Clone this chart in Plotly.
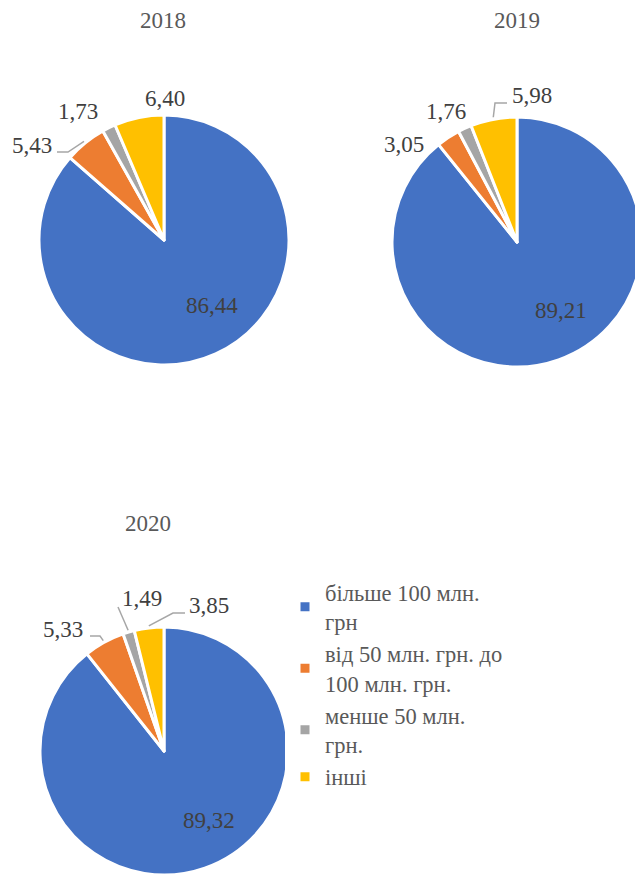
import math
import plotly.graph_objects as go

# ---- data ----
years = ["2018", "2019", "2020"]
categories = [
    "більше 100 млн.<br>грн",
    "від 50 млн. грн. до<br>100 млн. грн.",
    "менше 50 млн.<br>грн.",
    "інші",
]
v2018 = [86.44, 5.43, 1.73, 6.40]
v2019 = [89.21, 3.05, 1.76, 5.98]
v2020 = [89.32, 5.33, 1.49, 3.85]
values = [v2018, v2019, v2020]
colors = ["#4472C4", "#ED7D31", "#A5A5A5", "#FFC000"]

# ---- layout (pixels) ----
W, H = 648, 875
FONT = "Times New Roman, Liberation Serif, Tinos, serif"
pies = [
    dict(c=(164, 240), r=125, title=(163, 20),
         labels=[(212, 306), (32, 146), (78, 111), (165, 99)],
         leaders={1: [(57, 152), (68, 152)]}),
    dict(c=(517, 242), r=125, title=(517, 20),
         labels=[(561, 310), (404, 144), (446, 111), (532, 96)],
         leaders={3: [(507, 103), (495, 103)]}),
    dict(c=(164, 751), r=124, title=(148, 523),
         labels=[(209, 820), (63, 629), (142, 598), (209, 605)],
         leaders={1: [(90, 636), (100, 636)], 2: [(118, 607)], 3: [(185, 613), (173, 613)]}),
]

def px(x):
    return x / W

def py(y):
    return 1 - y / H

def fmt(v):
    return f"{v:.2f}".replace(".", ",")

fig = go.Figure()
annotations = []
shapes = []
for i, (yr, vals, p) in enumerate(zip(years, values, pies)):
    cx, cy = p["c"]
    r = p["r"]
    x0, x1 = max(0, cx - r), min(W, cx + r)
    y0, y1 = max(0, cy - r), min(H, cy + r)
    fig.add_trace(go.Pie(
        labels=categories, values=vals, sort=False, direction="clockwise",
        rotation=0, textinfo="none", hoverinfo="skip",
        marker=dict(colors=colors, line=dict(color="white", width=3)),
        domain=dict(x=[px(x0), px(x1)], y=[py(y1), py(y0)]),
        showlegend=(i == 2), name=yr,
    ))
    annotations.append(dict(x=px(p["title"][0]), y=py(p["title"][1]), xref="paper", yref="paper",
                            text=yr, showarrow=False, xanchor="center", yanchor="middle",
                            font=dict(family=FONT, size=23, color="#595959")))
    total = sum(vals)
    cum = 0
    for j, v in enumerate(vals):
        lx, ly = p["labels"][j]
        annotations.append(dict(x=px(lx), y=py(ly), xref="paper", yref="paper",
                                text=fmt(v), showarrow=False, xanchor="center", yanchor="middle",
                                font=dict(family=FONT, size=23, color="#404040")))
        theta = 2 * math.pi * (cum + v / 2) / total
        cum += v
        if j in p["leaders"]:
            R = r + 2
            ax, ay = cx + R * math.sin(theta), cy - R * math.cos(theta)
            pts = p["leaders"][j] + [(ax, ay)]
            path = "M " + " L ".join(f"{px(a)},{py(b)}" for a, b in pts)
            shapes.append(dict(type="path", path=path, xref="paper", yref="paper",
                               line=dict(color="#A6A6A6", width=1.5)))

fig.update_layout(
    width=W, height=H,
    margin=dict(l=0, r=0, t=0, b=0),
    paper_bgcolor="white", plot_bgcolor="white",
    font=dict(family=FONT),
    annotations=annotations, shapes=shapes,
    legend=dict(x=px(285), y=py(571), xanchor="left", yanchor="top",
                font=dict(family=FONT, size=22.5, color="#595959"),
                tracegroupgap=0, itemclick=False),
)
fig.write_html("out.html")
